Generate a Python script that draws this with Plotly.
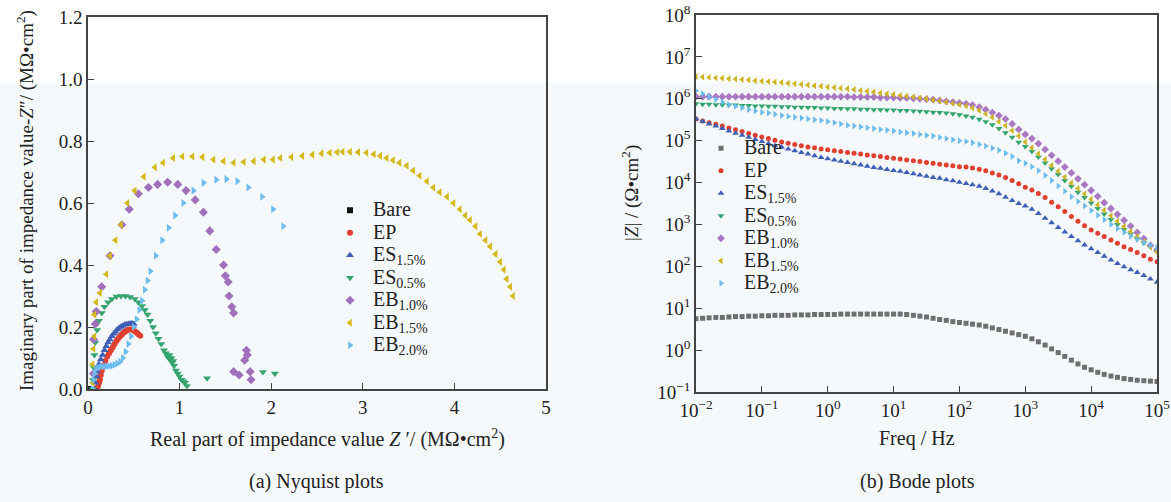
import plotly.graph_objects as go

FONT = "Liberation Serif"

names = ["Bare", "EP", "ES<sub>1.5%</sub>", "ES<sub>0.5%</sub>",
         "EB<sub>1.0%</sub>", "EB<sub>1.5%</sub>", "EB<sub>2.0%</sub>"]
symbols = ["square", "circle", "triangle-up", "triangle-down",
           "diamond", "triangle-left", "triangle-right"]
colors_nyq = ["#111111", "#e0402f", "#3f5fb5", "#35a46e", "#a070bc", "#d2ba1c", "#6dbcf0"]
colors_bode = ["#6f6f6f", "#e0402f", "#3f5fb5", "#35a46e", "#a878c2", "#cdb424", "#6dbcf0"]

# ---------------- Nyquist data (MOhm*cm2) ----------------
bare_re = [0.000006, 0.000005, 0.000003]
bare_im = [0.000001, 0.000002, 0.000001]

ep_re = [0.10, 0.11, 0.12, 0.13, 0.14, 0.15, 0.17, 0.19, 0.21, 0.23, 0.25, 0.27, 0.29, 0.31,
         0.33, 0.35, 0.37, 0.39, 0.41, 0.43, 0.45, 0.47, 0.49, 0.51, 0.53, 0.55, 0.57]
ep_im = [0.00, 0.01, 0.02, 0.03, 0.045, 0.06, 0.075, 0.09, 0.105, 0.115, 0.125, 0.135, 0.145,
         0.155, 0.163, 0.17, 0.176, 0.182, 0.186, 0.19, 0.192, 0.192, 0.19, 0.186, 0.182, 0.177, 0.172]

es15_re = [0.07, 0.08, 0.09, 0.10, 0.11, 0.12, 0.14, 0.16, 0.18, 0.20, 0.22, 0.24, 0.26, 0.28,
           0.30, 0.32, 0.34, 0.36, 0.38, 0.40, 0.42, 0.44, 0.46, 0.48, 0.50]
es15_im = [0.00, 0.02, 0.04, 0.055, 0.07, 0.08, 0.095, 0.11, 0.125, 0.138, 0.15, 0.16, 0.17,
           0.178, 0.185, 0.192, 0.197, 0.201, 0.204, 0.207, 0.209, 0.21, 0.211, 0.211, 0.21]

es05_re = [0.05, 0.055, 0.06, 0.07, 0.08, 0.10, 0.12, 0.15, 0.18, 0.22, 0.26, 0.31, 0.36, 0.41,
           0.46, 0.51, 0.55, 0.59, 0.62, 0.65, 0.68, 0.71, 0.74, 0.77, 0.80, 0.83, 0.85, 0.87,
           0.88, 0.89, 0.90, 0.91, 0.92, 0.93, 0.94, 0.96, 0.98, 1.00, 1.02, 1.04, 1.06, 1.08,
           1.30, 1.91, 2.04]
es05_im = [0.0, 0.03, 0.07, 0.11, 0.15, 0.19, 0.22, 0.245, 0.265, 0.28, 0.29, 0.298, 0.30, 0.30,
           0.297, 0.29, 0.28, 0.268, 0.255, 0.24, 0.22, 0.2, 0.18, 0.162, 0.145, 0.125, 0.115,
           0.105, 0.1, 0.11, 0.095, 0.1, 0.085, 0.09, 0.075, 0.06, 0.05, 0.04, 0.03, 0.025,
           0.02, 0.01, 0.035, 0.055, 0.05]

eb10_re = [0.06, 0.06, 0.08, 0.09, 0.15, 0.24, 0.37, 0.45, 0.55, 0.66, 0.76, 0.87, 0.98, 1.07,
           1.17, 1.26, 1.33, 1.40, 1.48, 1.50, 1.53, 1.54, 1.57, 1.59, 1.73, 1.74, 1.71, 1.59,
           1.65, 1.77, 1.78]
eb10_im = [0.05, 0.16, 0.21, 0.25, 0.33, 0.43, 0.53, 0.58, 0.63, 0.65, 0.66, 0.667, 0.66, 0.64,
           0.61, 0.57, 0.51, 0.45, 0.40, 0.365, 0.345, 0.30, 0.265, 0.245, 0.125, 0.11, 0.093,
           0.056, 0.045, 0.056, 0.03]

eb15_re = [0.05, 0.05, 0.06, 0.07, 0.07, 0.09, 0.13, 0.20, 0.24, 0.30, 0.36, 0.43, 0.51, 0.61,
           0.73, 0.82, 0.93, 1.03, 1.14, 1.25, 1.37, 1.48, 1.59, 1.70, 1.81, 1.92, 2.02, 2.10,
           2.22, 2.34, 2.45, 2.55, 2.64, 2.72, 2.78, 2.86, 2.95, 3.04, 3.12, 3.19, 3.26, 3.33,
           3.40, 3.48, 3.55, 3.62, 3.70, 3.77, 3.84, 3.92, 3.99, 4.06, 4.12, 4.17, 4.23, 4.28,
           4.34, 4.39, 4.45, 4.50, 4.54, 4.57, 4.61, 4.64]
eb15_im = [0.02, 0.08, 0.13, 0.17, 0.24, 0.28, 0.31, 0.37, 0.43, 0.48, 0.53, 0.60, 0.64, 0.685,
           0.715, 0.73, 0.745, 0.75, 0.75, 0.748, 0.74, 0.735, 0.73, 0.732, 0.735, 0.74, 0.74,
           0.745, 0.748, 0.752, 0.756, 0.76, 0.762, 0.764, 0.765, 0.765, 0.764, 0.762, 0.757,
           0.752, 0.745, 0.738, 0.73, 0.72, 0.705, 0.688, 0.67, 0.65, 0.635, 0.62, 0.60, 0.58,
           0.56, 0.545, 0.525, 0.50, 0.48, 0.46, 0.435, 0.41, 0.385, 0.355, 0.33, 0.30]

eb20_re = [0.05, 0.06, 0.07, 0.09, 0.11, 0.14, 0.17, 0.20, 0.23, 0.26, 0.29, 0.32, 0.35, 0.38,
           0.41, 0.44, 0.47, 0.50, 0.53, 0.56, 0.59, 0.62, 0.65, 0.68, 0.74, 0.81, 0.88, 0.95,
           1.04, 1.15, 1.26, 1.40, 1.51, 1.63, 1.75, 1.90, 2.02, 2.13]
eb20_im = [0.0, 0.03, 0.05, 0.065, 0.07, 0.072, 0.073, 0.073, 0.074, 0.075, 0.078, 0.082, 0.088,
           0.10, 0.12, 0.145, 0.17, 0.2, 0.225, 0.255, 0.285, 0.32, 0.35, 0.38, 0.43, 0.48,
           0.52, 0.56, 0.60, 0.64, 0.665, 0.675, 0.677, 0.67, 0.65, 0.62, 0.58, 0.525]

# ---------------- Bode data ----------------
freq = [0.01, 0.0126, 0.0158, 0.02, 0.0251, 0.0316, 0.0398, 0.0501, 0.0631, 0.0794,
        0.1, 0.126, 0.158, 0.2, 0.251, 0.316, 0.398, 0.501, 0.631, 0.794,
        1, 1.26, 1.58, 2, 2.51, 3.16, 3.98, 5.01, 6.31, 7.94,
        10, 12.6, 15.8, 20, 25.1, 31.6, 39.8, 50.1, 63.1, 79.4,
        100, 126, 158, 200, 251, 316, 398, 501, 631, 794,
        1000, 1260, 1580, 2000, 2510, 3160, 3980, 5010, 6310, 7940,
        10000, 12600, 15800, 20000, 25100, 31600, 39800, 50100, 63100, 79400,
        100000]

z_bare = [5.62, 5.75, 5.89, 6.03, 6.03, 6.17, 6.31, 6.31, 6.46, 6.46,
          6.61, 6.61, 6.76, 6.76, 6.76, 6.92, 6.92, 6.92, 7.08, 7.08,
          7.08, 7.08, 7.24, 7.24, 7.24, 7.24, 7.24, 7.24, 7.24, 7.24,
          7.24, 7.24, 7.08, 6.76, 6.46, 6.17, 5.75, 5.37, 5.13, 4.79,
          4.57, 4.37, 4.17, 3.98, 3.72, 3.39, 3.09, 2.82, 2.57, 2.34,
          2.14, 1.86, 1.58, 1.32, 1.07, 0.871, 0.708, 0.575, 0.468, 0.389,
          0.339, 0.295, 0.263, 0.240, 0.224, 0.209, 0.200, 0.191, 0.186, 0.182,
          0.178]

z_ep = [3.31e5, 2.95e5, 2.69e5, 2.45e5, 2.24e5, 2.00e5, 1.82e5, 1.66e5, 1.48e5, 1.35e5,
        1.23e5, 1.12e5, 1.02e5, 9.33e4, 8.71e4, 8.13e4, 7.59e4, 7.08e4, 6.76e4, 6.31e4,
        6.03e4, 5.75e4, 5.50e4, 5.25e4, 5.01e4, 4.79e4, 4.57e4, 4.37e4, 4.17e4, 3.98e4,
        3.80e4, 3.63e4, 3.47e4, 3.31e4, 3.16e4, 3.02e4, 2.88e4, 2.75e4, 2.63e4, 2.51e4,
        2.40e4, 2.34e4, 2.24e4, 2.09e4, 1.91e4, 1.70e4, 1.51e4, 1.32e4, 1.12e4, 9.33e3,
        7.76e3, 6.61e3, 5.50e3, 4.37e3, 3.39e3, 2.63e3, 2.04e3, 1.55e3, 1.20e3, 933,
        741, 617, 513, 427, 355, 295, 251, 214, 178, 148,
        129]

z_es15 = [3.31e5, 2.88e5, 2.51e5, 2.24e5, 1.95e5, 1.70e5, 1.51e5, 1.35e5, 1.20e5, 1.07e5,
          9.55e4, 8.51e4, 7.59e4, 6.92e4, 6.31e4, 5.75e4, 5.25e4, 4.79e4, 4.37e4, 3.98e4,
          3.72e4, 3.47e4, 3.24e4, 3.02e4, 2.82e4, 2.63e4, 2.45e4, 2.29e4, 2.19e4, 2.04e4,
          1.95e4, 1.86e4, 1.74e4, 1.62e4, 1.51e4, 1.41e4, 1.32e4, 1.26e4, 1.17e4, 1.10e4,
          1.02e4, 9.55e3, 8.91e3, 8.13e3, 7.24e3, 6.31e3, 5.37e3, 4.47e3, 3.72e3, 3.16e3,
          2.75e3, 2.29e3, 1.82e3, 1.41e3, 1.10e3, 851, 661, 513, 407, 324,
          263, 214, 174, 141, 117, 97.7, 83.2, 70.8, 60.3, 50.1,
          41.7]

z_es05 = [7.59e5, 7.41e5, 7.41e5, 7.24e5, 7.24e5, 7.08e5, 7.08e5, 6.92e5, 6.92e5, 6.76e5,
          6.76e5, 6.61e5, 6.61e5, 6.46e5, 6.46e5, 6.31e5, 6.31e5, 6.17e5, 6.17e5, 6.03e5,
          6.03e5, 5.89e5, 5.89e5, 5.75e5, 5.75e5, 5.62e5, 5.62e5, 5.50e5, 5.50e5, 5.37e5,
          5.37e5, 5.25e5, 5.25e5, 5.13e5, 5.01e5, 4.90e5, 4.79e5, 4.68e5, 4.57e5, 4.37e5,
          4.17e5, 3.89e5, 3.63e5, 3.24e5, 2.82e5, 2.40e5, 1.95e5, 1.55e5, 1.20e5, 9.12e4,
          7.24e4, 5.50e4, 4.07e4, 2.95e4, 2.14e4, 1.55e4, 1.12e4, 8.13e3, 5.89e3, 4.37e3,
          3.24e3, 2.40e3, 1.78e3, 1.32e3, 1.00e3, 759, 589, 457, 363, 295,
          245]

z_eb10 = [1.12e6, 1.12e6, 1.12e6, 1.12e6, 1.12e6, 1.12e6, 1.12e6, 1.12e6, 1.12e6, 1.12e6,
          1.12e6, 1.12e6, 1.12e6, 1.12e6, 1.12e6, 1.12e6, 1.12e6, 1.12e6, 1.12e6, 1.12e6,
          1.12e6, 1.12e6, 1.12e6, 1.12e6, 1.10e6, 1.10e6, 1.10e6, 1.10e6, 1.07e6, 1.07e6,
          1.07e6, 1.05e6, 1.05e6, 1.02e6, 1.00e6, 9.77e5, 9.55e5, 9.12e5, 8.71e5, 8.32e5,
          7.94e5, 7.59e5, 7.08e5, 6.31e5, 5.50e5, 4.68e5, 3.98e5, 3.31e5, 2.51e5, 1.86e5,
          1.41e5, 1.12e5, 8.51e4, 6.17e4, 4.47e4, 3.24e4, 2.34e4, 1.70e4, 1.23e4, 8.91e3,
          6.46e3, 4.68e3, 3.31e3, 2.40e3, 1.74e3, 1.26e3, 912, 646, 457, 316,
          240]

z_eb15 = [3.39e6, 3.31e6, 3.24e6, 3.16e6, 3.09e6, 3.02e6, 2.95e6, 2.88e6, 2.82e6, 2.69e6,
          2.63e6, 2.57e6, 2.51e6, 2.45e6, 2.34e6, 2.29e6, 2.19e6, 2.14e6, 2.04e6, 2.00e6,
          1.91e6, 1.86e6, 1.78e6, 1.74e6, 1.66e6, 1.58e6, 1.51e6, 1.45e6, 1.38e6, 1.32e6,
          1.26e6, 1.20e6, 1.15e6, 1.10e6, 1.05e6, 1.00e6, 9.33e5, 8.91e5, 8.32e5, 7.76e5,
          7.24e5, 6.76e5, 6.03e5, 5.25e5, 4.37e5, 3.63e5, 2.88e5, 2.29e5, 1.74e5, 1.29e5,
          9.33e4, 6.76e4, 4.90e4, 3.55e4, 2.57e4, 1.86e4, 1.35e4, 9.77e3, 7.24e3, 5.37e3,
          3.98e3, 2.95e3, 2.19e3, 1.62e3, 1.20e3, 891, 676, 513, 389, 288,
          219]

z_eb20 = [1.55e6, 1.32e6, 1.12e6, 9.55e5, 8.32e5, 7.24e5, 6.61e5, 6.03e5, 5.50e5, 5.13e5,
          4.79e5, 4.57e5, 4.27e5, 3.98e5, 3.80e5, 3.63e5, 3.47e5, 3.31e5, 3.16e5, 3.02e5,
          2.88e5, 2.69e5, 2.51e5, 2.34e5, 2.24e5, 2.14e5, 2.04e5, 1.95e5, 1.86e5, 1.78e5,
          1.70e5, 1.62e5, 1.55e5, 1.48e5, 1.41e5, 1.35e5, 1.29e5, 1.20e5, 1.12e5, 1.05e5,
          1.00e5, 9.55e4, 8.91e4, 8.13e4, 7.41e4, 6.61e4, 5.89e4, 5.01e4, 4.17e4, 3.31e4,
          2.88e4, 2.40e4, 1.91e4, 1.48e4, 1.12e4, 8.32e3, 6.17e3, 4.57e3, 3.55e3, 2.75e3,
          2.14e3, 1.66e3, 1.29e3, 1.00e3, 794, 646, 525, 437, 372, 316,
          282]

nyq_x = [bare_re, ep_re, es15_re, es05_re, eb10_re, eb15_re, eb20_re]
nyq_y = [bare_im, ep_im, es15_im, es05_im, eb10_im, eb15_im, eb20_im]
bode_z = [z_bare, z_ep, z_es15, z_es05, z_eb10, z_eb15, z_eb20]

y_ticks = [0.1, 1, 10, 100, 1e3, 1e4, 1e5, 1e6, 1e7, 1e8]
y_ticktext = ["10<sup>−1</sup>", "10<sup>0</sup>", "10<sup>1</sup>", "10<sup>2</sup>",
              "10<sup>3</sup>", "10<sup>4</sup>", "10<sup>5</sup>", "10<sup>6</sup>",
              "10<sup>7</sup>", "10<sup>8</sup>"]
x_ticks = [0.01, 0.1, 1, 10, 100, 1e3, 1e4, 1e5]
x_ticktext = ["10<sup>−2</sup>", "10<sup>−1</sup>", "10<sup>0</sup>", "10<sup>1</sup>",
              "10<sup>2</sup>", "10<sup>3</sup>", "10<sup>4</sup>", "10<sup>5</sup>"]

sizes = [6, 6, 7, 7, 7, 7, 7]
LEG_TXT = 20


def leg_name(n):
    return '<span style="font-size:%dpx">%s</span>' % (LEG_TXT, n)


fig = go.Figure()
for i in range(7):
    fig.add_trace(go.Scatter(
        x=nyq_x[i], y=nyq_y[i], mode="markers", name=leg_name(names[i]),
        marker=dict(symbol=symbols[i], color=colors_nyq[i], size=sizes[i], line=dict(width=0)),
        xaxis="x", yaxis="y", legend="legend"))
for i in range(7):
    fig.add_trace(go.Scatter(
        x=freq, y=bode_z[i], mode="markers", name=leg_name(names[i]),
        marker=dict(symbol=symbols[i], color=colors_bode[i], size=sizes[i] - 1, line=dict(width=0)),
        xaxis="x2", yaxis="y2", legend="legend2"))

# the page margin is removed by post_script below, so the figure fills the window
W, H = 1171, 502


def px(x):
    return x / W


def py(y):
    return 1 - y / H


axis_common = dict(showline=True, linecolor="#444444", linewidth=1.5, mirror=True,
                   ticks="inside", ticklen=6, tickwidth=1.2, tickcolor="#444444",
                   showgrid=False, zeroline=False, ticklabeloverflow="allow",
                   tickfont=dict(family=FONT, size=19, color="#222222"))

leg_common = dict(xanchor="left", yanchor="top", bgcolor="rgba(0,0,0,0)",
                  font=dict(family=FONT, size=15, color="#222222"),
                  tracegroupgap=0, itemsizing="trace", itemwidth=36)


def ann(text, x, y, angle=0, size=20):
    return dict(text=text, x=px(x), y=py(y), xref="paper", yref="paper",
                xanchor="center", yanchor="middle", textangle=angle, showarrow=False,
                font=dict(family=FONT, size=size, color="#222222"))


fig.update_layout(
    width=W, height=H,
    margin=dict(l=0, r=0, t=0, b=0, autoexpand=False),
    paper_bgcolor="white", plot_bgcolor="rgba(0,0,0,0)",
    font=dict(family=FONT, color="#222222"),
    xaxis=dict(domain=[px(88), px(546)], anchor="y", range=[0, 5], dtick=1, **axis_common),
    yaxis=dict(domain=[py(389), py(17)], anchor="x", range=[0, 1.2], dtick=0.2,
               tickformat=".1f", **axis_common),
    xaxis2=dict(domain=[px(696), px(1157)], anchor="y2", type="log", range=[-2, 5],
                tickvals=x_ticks, ticktext=x_ticktext, **axis_common),
    yaxis2=dict(domain=[py(392), py(15)], anchor="x2", type="log", range=[-1, 8],
                tickvals=y_ticks, ticktext=y_ticktext, **axis_common),
    legend=dict(x=px(327), y=py(194), **leg_common),
    legend2=dict(x=px(698), y=py(132), **leg_common),
    shapes=[dict(type="rect", xref="paper", yref="paper", x0=0, x1=1, y0=0, y1=py(83),
                 fillcolor="#f6f9fc", line=dict(width=0), layer="below")],
    annotations=[
        ann("Imaginary part of impedance value-<i>Z</i>″/ (MΩ•cm<sup>2</sup>)", 25, 201, -90, 19),
        ann("Real part of impedance value <i>Z</i> ′/ (MΩ•cm<sup>2</sup>)", 327, 438),
        ann("(a) Nyquist plots", 316, 481),
        ann("|<i>Z</i>| / (Ω•cm<sup>2</sup>)", 630, 193, -90, 19),
        ann("Freq / Hz", 917, 438),
        ann("(b) Bode plots", 917, 481),
    ],
)

fig.write_html("out.html",
               config={"displayModeBar": False},
               post_script="document.body.style.margin='0px';"
                           "document.body.style.overflow='hidden';")
